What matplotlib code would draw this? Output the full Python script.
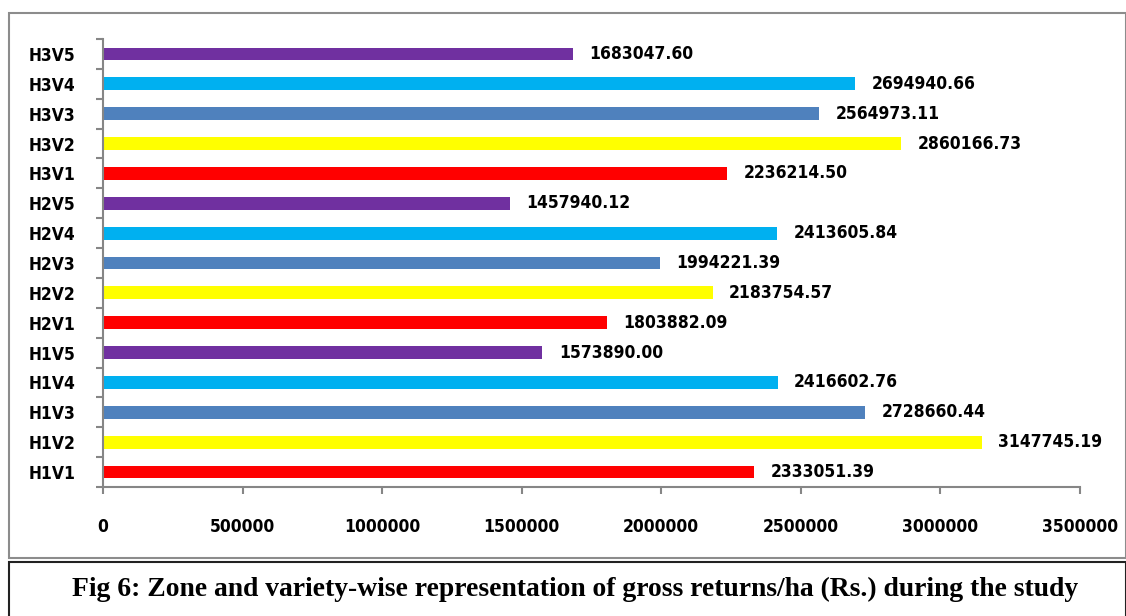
import matplotlib
matplotlib.use("Agg")
import matplotlib.pyplot as plt
from matplotlib.patches import Rectangle
from matplotlib import font_manager
from matplotlib.font_manager import FontProperties

# Data (bottom to top)
categories = ["H1V1", "H1V2", "H1V3", "H1V4", "H1V5",
              "H2V1", "H2V2", "H2V3", "H2V4", "H2V5",
              "H3V1", "H3V2", "H3V3", "H3V4", "H3V5"]
returns = [2333051.39, 3147745.19, 2728660.44, 2416602.76, 1573890.00,
           1803882.09, 2183754.57, 1994221.39, 2413605.84, 1457940.12,
           2236214.50, 2860166.73, 2564973.11, 2694940.66, 1683047.60]
variety_colors = ["#FF0000", "#FFFF00", "#4F81BD", "#00B0F0", "#7030A0"]
xticks = [0, 500000, 1000000, 1500000, 2000000, 2500000, 3000000, 3500000]


def narrow_bold(size):
    # look for a bold condensed face on disk
    files = [f.fname for f in font_manager.fontManager.ttflist]
    for key in ["LiberationSansNarrow-Bold.", "DejaVuSansCondensed-Bold.",
                "RobotoCondensed-Bold", "OpenSans_Condensed-Bold", "OpenSansCondensed-Bold"]:
        for fn in files:
            if key in fn.replace(" ", ""):
                return FontProperties(fname=fn, size=size)
    return FontProperties(family="DejaVu Sans", weight="bold", stretch="condensed", size=size)


W, H = 1126, 616
fig = plt.figure(figsize=(W / 100, H / 100), dpi=100)

# outer frames
fig.patches.append(Rectangle((9 / W, 1 - 558 / H), (W - 9) / W, (558 - 13) / H,
                             transform=fig.transFigure, fill=False,
                             edgecolor="#8c8c8c", linewidth=1.5))
fig.patches.append(Rectangle((9 / W, -0.01), (W - 9) / W, 1 - 562 / H + 0.01,
                             transform=fig.transFigure, fill=False,
                             edgecolor="#222222", linewidth=1.5))

ax = fig.add_axes([103 / W, 1 - 487 / H, (1080 - 103) / W, (487 - 39) / H])

colors = [variety_colors[i % 5] for i in range(len(categories))]
ypos = list(range(len(categories)))
ax.barh(ypos, returns, height=0.43, color=colors)

val_font = narrow_bold(12.5)
for y, v in zip(ypos, returns):
    ax.annotate(f"{v:.2f}", (v, y), xytext=(12, 0), textcoords="offset points",
                va="center", ha="left", fontproperties=val_font)

ax.set_xlim(0, 3500000)
ax.set_ylim(-0.5, len(categories) - 0.5)
ax.set_xticks(xticks)
ax.set_xticklabels([str(t) for t in xticks])
ax.set_yticks([y - 0.5 for y in ypos] + [len(categories) - 0.5], minor=False)
ax.set_yticklabels([])
ax.set_yticks(ypos, minor=True)
ax.set_yticklabels(categories, minor=True)

for s in ["top", "right"]:
    ax.spines[s].set_visible(False)
for s in ["left", "bottom"]:
    ax.spines[s].set_color("#868686")
    ax.spines[s].set_linewidth(1.5)

ax.tick_params(axis="x", direction="out", length=5, width=1.5, color="#868686", pad=17)
ax.tick_params(axis="y", which="major", direction="out", length=5, width=1.5,
               color="#868686")
ax.tick_params(axis="y", which="minor", length=0, pad=20)
tick_font = narrow_bold(12.5)
for lab in ax.get_xticklabels() + ax.get_yticklabels(minor=True):
    lab.set_fontproperties(tick_font)

fig.text(575 / W, 1 - 589 / H,
         "Fig 6: Zone and variety-wise representation of gross returns/ha (Rs.) during the study",
         ha="center", va="center", fontsize=19.9, fontweight="bold",
         family="Liberation Serif")

fig.savefig("out.png", dpi=100)
